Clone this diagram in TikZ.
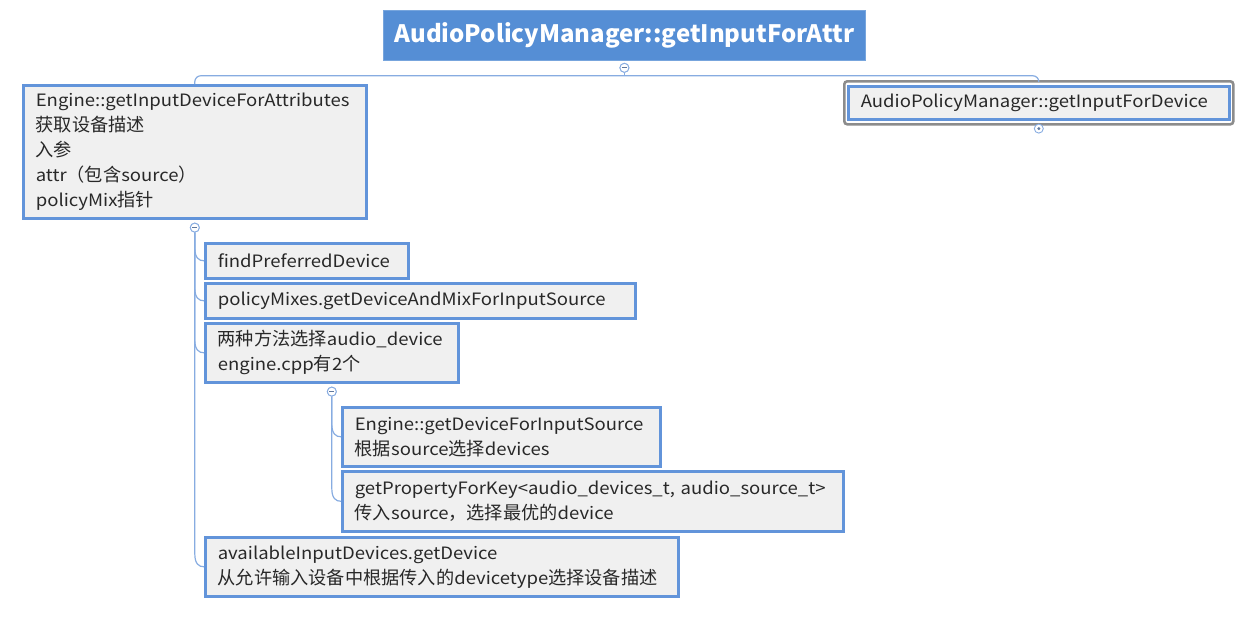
\documentclass[tikz,border=0pt]{standalone}
\usepackage{fontspec}
\setmainfont[FakeStretch=1.09]{Noto Sans CJK SC}
\newfontfamily\zhf[Scale=1.07]{Noto Sans CJK SC}
\newfontfamily\titlef{Noto Sans CJK SC}
\newcommand\zh[1]{{\zhf #1}}
\usetikzlibrary{calc}
\definecolor{titleblue}{RGB}{85,142,213}
\definecolor{boxblue}{RGB}{98,148,218}
\definecolor{boxfill}{RGB}{240,240,240}
\definecolor{connblue}{RGB}{135,172,225}
\definecolor{selgray}{RGB}{140,140,140}
\definecolor{txt}{RGB}{40,40,40}
\newcommand\mmbranch[2]{%
  \draw[conn] (#1.south) -- ($(#1.south |- #2.west)+(0,-13)$)
    .. controls ($(#1.south |- #2.west)+(0,-3)$) and ($(#1.south |- #2.west)+(4,0)$) .. (#2.west);}
\begin{document}
\begin{tikzpicture}[x=1pt,y=-1pt,
  box/.style={draw=boxblue, line width=2.6pt, fill=boxfill, anchor=north west,
    inner xsep=12.5pt, inner ysep=0pt, align=left, text=txt,
    font=\fontsize{17}{25}\selectfont},
  conn/.style={draw=connblue, line width=1.2pt},
  toggle/.style={circle, draw=connblue, fill=white, line width=0.9pt,
    minimum size=9pt, inner sep=0pt}]
\useasboundingbox (0,0) rectangle (1245,633);

% title
\node[fill=titleblue, draw=titleblue!80!white, line width=0.8pt, anchor=north west,
  minimum width=482pt, minimum height=50pt, inner sep=0pt, text=white,
  font=\fontsize{24}{28}\titlef\bfseries] (root) at (383,10) {AudioPolicyManager::getInputForAttr};

% main children
\node[box, text width=318pt, minimum height=133pt] (E) at (22,84)
  {Engine::getInputDeviceForAttributes\\\zh{获取设备描述}\\\zh{入参}\\attr\zh{（包含}source\zh{）}\\policyMix\zh{指针}};

\node[draw=selgray, line width=2.6pt, rounded corners=3pt, anchor=north west,
  minimum width=389pt, minimum height=43pt, inner sep=0pt] (Rsel) at (843,80) {};
\node[box, text width=356pt, minimum height=33pt, inner xsep=12.5pt] (R) at (847,85)
  {AudioPolicyManager::getInputForDevice};

% children of E
\node[box, text width=178pt, minimum height=35pt] (F) at (204,242) {findPreferredDevice};
\node[box, text width=405pt, minimum height=35pt] (P) at (204,282) {policyMixes.getDeviceAndMixForInputSource};
\node[box, text width=228pt, minimum height=59pt] (T) at (204,322) {\zh{两种方法选择}audio\_device\\engine.cpp\zh{有}2\zh{个}};
\node[box, text width=448pt, minimum height=59pt] (A) at (204,536) {availableInputDevices.getDevice\\\zh{从允许输入设备中根据传入的}devicetype\zh{选择设备描述}};

% children of T
\node[box, text width=293pt, minimum height=59pt] (G) at (341,406) {Engine::getDeviceForInputSource\\\zh{根据}source\zh{选择}devices};
\node[box, text width=476pt, minimum height=60pt] (K) at (341,470) {getPropertyForKey<audio\_devices\_t, audio\_source\_t>\\\zh{传入}source\zh{，选择最优的}device};

% toggles
\node[toggle] (cRoot) at ($(root.south)+(0,7)$) {};
\node[toggle] (cE) at ($(E.south)+(0,8)$) {};
\node[toggle] (cT) at ($(T.south)+(0,8)$) {};
\node[toggle] (cR) at ($(R.south)+(0,8)$) {};

% top connectors
\coordinate (hub) at ($(cRoot.south)+(0,3)$);
\draw[conn, rounded corners=6pt] (E.north) -- (E.north |- hub) -- (R.north |- hub) -- (Rsel.north);
\draw[conn] (cRoot.south) -- (hub);

% branches
\mmbranch{cE}{F}
\mmbranch{cE}{P}
\mmbranch{cE}{T}
\mmbranch{cE}{A}
\mmbranch{cT}{G}
\mmbranch{cT}{K}

% toggle signs (redraw on top)
\node[toggle] at (cRoot) {};
\draw[connblue!70!black, line width=0.8pt] ($(cRoot)+(-2.5,0)$) -- ($(cRoot)+(2.5,0)$);
\node[toggle] at (cE) {};
\draw[connblue!70!black, line width=0.8pt] ($(cE)+(-2.5,0)$) -- ($(cE)+(2.5,0)$);
\node[toggle] at (cT) {};
\draw[connblue!70!black, line width=0.8pt] ($(cT)+(-2.5,0)$) -- ($(cT)+(2.5,0)$);
\fill[connblue!70!black] (cR) circle (1.6pt);
\end{tikzpicture}
\end{document}
